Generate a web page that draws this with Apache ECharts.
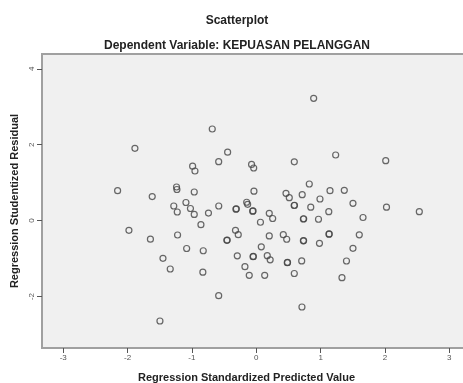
<!DOCTYPE html>
<html>
<head>
<meta charset="utf-8">
<script src="https://cdn.jsdelivr.net/npm/echarts@6/dist/echarts.min.js"></script>
<style>
	html, body { margin: 0; padding: 0; background: #fff; }
	#chart { width: 463px; height: 383px; }
</style>
</head>
<body>
<div id="chart"></div>
<script>
	// 刻度
	var xTicks = [-3, -2, -1, 0, 1, 2, 3];
	var yTicks = [-2, 0, 2, 4];

	// 标准化预测值 (x) 与 学生化残差 (y)
	var predicted = [
		-1.886, -2.155, -1.617, -1.979, -1.645, -1.497, -1.450, -1.337, -1.239, -1.233,
		-1.282, -1.228, -1.223, -0.684, -0.445, -0.584, -0.989, -0.953, -0.073, -0.040,
		0.591, -0.964, -0.036, 0.462, 0.513, 0.714, 0.824, -1.093, -1.023, -0.964,
		-0.743, -0.583, -0.316, -0.149, -0.134, -0.056, 0.202, 0.255, 0.065, 0.589,
		0.847, 0.732, 0.967, -0.860, -0.323, -0.280, -0.457, 0.202, 0.420, 0.473,
		0.732, 0.982, -1.082, -0.824, 0.078, -0.295, -0.050, 0.171, 0.216, 0.482,
		0.706, -0.176, -0.109, 0.131, 0.591, -0.830, -0.584, 0.710, 0.892, 1.234,
		2.012, 1.146, 1.368, 0.990, 1.503, 2.024, 2.534, 1.127, 1.659, 1.130,
		1.601, 1.503, 1.402, 1.332,
		-0.310, -0.050, 0.594, 0.737, -0.452, 0.736, -0.045, 0.486, 1.134
	];
	var residual = [
		1.906, 0.789, 0.634, -0.254, -0.489, -2.644, -0.992, -1.274, 0.887, 0.821,
		0.386, 0.228, -0.378, 2.415, 1.804, 1.553, 1.435, 1.308, 1.480, 1.387,
		1.551, 0.755, 0.776, 0.721, 0.605, 0.684, 0.966, 0.478, 0.320, 0.165,
		0.199, 0.386, 0.302, 0.484, 0.431, 0.249, 0.194, 0.057, -0.043, 0.399,
		0.354, 0.043, 0.036, -0.107, -0.254, -0.370, -0.518, -0.404, -0.370, -0.491,
		-0.531, -0.597, -0.734, -0.794, -0.689, -0.926, -0.950, -0.924, -1.032, -1.108,
		-1.061, -1.213, -1.440, -1.440, -1.393, -1.358, -1.978, -2.275, 3.224, 1.730,
		1.580, 0.789, 0.800, 0.570, 0.457, 0.354, 0.236, 0.236, 0.083, -0.357,
		-0.373, -0.729, -1.063, -1.503,
		0.310, 0.256, 0.405, 0.050, -0.512, -0.524, -0.944, -1.100, -0.350
	];

	var points = [];
	for(var i = 0; i < predicted.length; i++) {
		points.push([predicted[i], residual[i]]);
	}

	var chart = echarts.init(document.getElementById('chart'));

	var labelFont = '"Liberation Sans", Arial, sans-serif';

	var option = {
		backgroundColor: '#fff',
		animation: false,
		title: [{
			text: 'Scatterplot',
			left: 237,
			textAlign: 'center',
			top: 15,
			padding: 0,
			textStyle: {
				fontFamily: labelFont,
				fontSize: 12,
				fontWeight: 'bold',
				color: '#222'
			}
		}, {
			text: 'Dependent Variable: KEPUASAN PELANGGAN',
			left: 237,
			textAlign: 'center',
			top: 40,
			padding: 0,
			textStyle: {
				fontFamily: labelFont,
				fontSize: 12,
				fontWeight: 'bold',
				color: '#222'
			}
		}],
		grid: {
			left: 42,
			top: 54,
			right: -2,
			bottom: 35,
			outerBoundsMode: 'none',
			show: true,
			backgroundColor: '#f0f0f0',
			borderColor: '#a0a0a0',
			borderWidth: 2
		},
		xAxis: {
			type: 'value',
			min: -3.33,
			max: 3.244,
			name: 'Regression Standardized Predicted Value',
			nameLocation: 'middle',
			nameGap: 24,
			nameTextStyle: {
				fontFamily: labelFont,
				fontSize: 11,
				fontWeight: 'bold',
				color: '#222',
				padding: [0, 14, 0, 0]
			},
			splitLine: { show: false },
			axisLine: { show: true, onZero: false, lineStyle: { color: '#a0a0a0', width: 2 } },
			axisTick: {
				show: true,
				length: 5,
				customValues: xTicks,
				lineStyle: { color: '#555', width: 1 }
			},
			axisLabel: {
				customValues: xTicks,
				fontFamily: labelFont,
				fontSize: 8,
				color: '#555',
				margin: 6
			}
		},
		yAxis: {
			type: 'value',
			min: -3.356,
			max: 4.391,
			name: 'Regression Studentized Residual',
			nameLocation: 'middle',
			nameGap: 22,
			nameTextStyle: {
				fontFamily: labelFont,
				fontSize: 11,
				fontWeight: 'bold',
				color: '#222'
			},
			splitLine: { show: false },
			axisLine: { show: true, onZero: false, lineStyle: { color: '#a0a0a0', width: 2 } },
			axisTick: {
				show: true,
				length: 5,
				customValues: yTicks,
				lineStyle: { color: '#555', width: 1 }
			},
			axisLabel: {
				customValues: yTicks,
				rotate: 90,
				fontFamily: labelFont,
				fontSize: 8,
				color: '#555',
				margin: 6
			}
		},
		series: [{
			type: 'scatter',
			symbol: 'circle',
			symbolSize: 6,
			itemStyle: {
				color: 'rgba(0,0,0,0)',
				borderColor: '#444',
				borderWidth: 1.2
			},
			data: points
		}]
	};

	chart.setOption(option);
</script>
</body>
</html>
